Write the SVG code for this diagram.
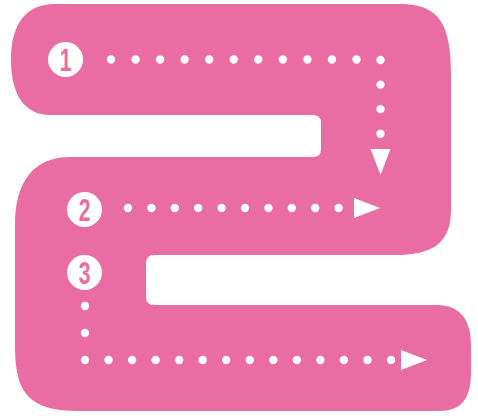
<svg xmlns="http://www.w3.org/2000/svg" width="478" height="416" viewBox="0 0 478 416">
  <style>
    .band { fill: #E96CA3; }
    .badge { fill: #FFFFFF; }
    .num { fill: #E96CA3; font-family: "Liberation Sans", Arial, sans-serif; font-weight: bold; font-size: 32px; text-anchor: middle; }
    .dots { fill: none; stroke: #FFFFFF; stroke-width: 8.4; stroke-linecap: round; }
  </style>
  <defs>
    <marker id="tri" markerUnits="userSpaceOnUse" markerWidth="30" markerHeight="24" refX="0" refY="12" orient="auto" overflow="visible">
      <path d="M0,2 L26,12 L0,22 Z" fill="#FFFFFF"/>
    </marker>
  </defs>

  <g id="band">
    <path class="band" d="M55,4 H400 C440,4 451,25 451,75 V210 C451,245 430,255 395,255 H154 Q146,255 146,263 V297 Q146,305 154,305 H437 C460,305 471,320 471,345 V372 C471,400 460,411 440,411 H80 C30,411 15,395 15,345 V225 C15,180 35,157 70,157 H313 Q321,157 321,149 V123 Q321,115 313,115 H50 C25,115 11,95 11,60 C11,25 25,4 55,4 Z"/>
  </g>

  <g id="connectors">
    <path class="dots" d="M111,59.5 H380.5 V149" stroke-dasharray="0 24.55" marker-end="url(#tri)"/>
    <path class="dots" d="M128,208 H354" stroke-dasharray="0 23.4" marker-end="url(#tri)"/>
    <path class="dots" d="M85,306 V350" stroke-dasharray="0 27"/>
    <path class="dots" d="M85,360 H401" stroke-dasharray="0 23.54" marker-end="url(#tri)"/>
  </g>

  <g id="step-1">
    <circle class="badge" cx="65.5" cy="59.5" r="17.5"/>
    <text class="num" transform="translate(65.5,71) scale(0.66,1)">1</text>
  </g>
  <g id="step-2">
    <circle class="badge" cx="84.5" cy="209.5" r="17.5"/>
    <text class="num" transform="translate(84.5,221) scale(0.66,1)">2</text>
  </g>
  <g id="step-3">
    <circle class="badge" cx="84.5" cy="272.5" r="17.5"/>
    <text class="num" transform="translate(84.5,284) scale(0.66,1)">3</text>
  </g>
</svg>
